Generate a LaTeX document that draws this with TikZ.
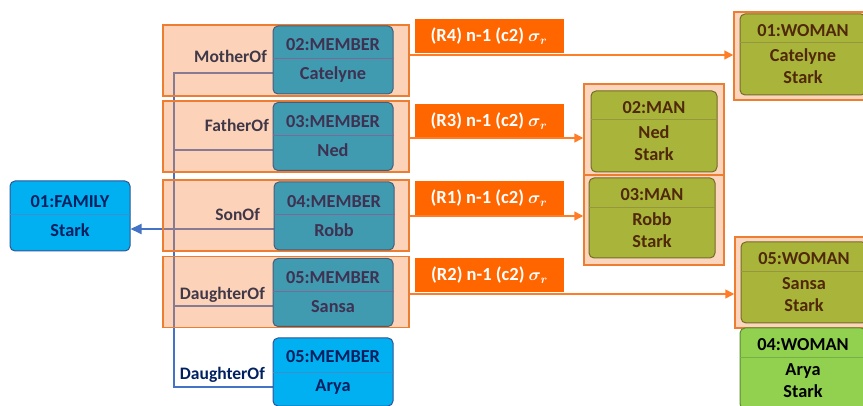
\documentclass[tikz,border=0pt]{standalone}
\usepackage{fontspec}
\setmainfont{Carlito}
\usetikzlibrary{arrows.meta}
\pgfdeclarelayer{back}
\pgfsetlayers{back,main}

\definecolor{rowfill}{RGB}{246,140,70}
\definecolor{roworange}{RGB}{237,125,49}
\definecolor{peach}{RGB}{252,213,190}
\definecolor{flame}{RGB}{255,102,0}
\definecolor{memfill}{RGB}{64,154,176}
\definecolor{memedge}{RGB}{72,92,122}
\definecolor{memline}{RGB}{124,106,150}
\definecolor{memtext}{RGB}{63,49,81}
\definecolor{skyfill}{RGB}{0,176,240}
\definecolor{skyedge}{RGB}{47,85,151}
\definecolor{skyline}{RGB}{58,143,208}
\definecolor{navytext}{RGB}{0,32,96}
\definecolor{linkblue}{RGB}{68,114,196}
\definecolor{olivefill}{RGB}{169,180,58}
\definecolor{oliveedge}{RGB}{118,108,40}
\definecolor{oliveline}{RGB}{150,150,64}
\definecolor{olivetext}{RGB}{80,40,10}
\definecolor{greenfill}{RGB}{146,208,80}
\definecolor{greenedge}{RGB}{90,140,50}
\definecolor{greenline}{RGB}{118,176,70}
\definecolor{labeltext}{RGB}{64,56,72}

\begin{document}
\begin{tikzpicture}[x=1pt, y=-1pt,
    row/.style={draw=roworange, line width=1.5pt, fill=rowfill, fill opacity=0.38, minimum width=246pt, minimum height=71pt, inner sep=0pt},
    member/.style={draw=memedge, fill=memfill, text=memtext, rounded corners=5pt, line width=1pt, minimum width=120pt, minimum height=68pt, align=center, font=\fontsize{18.3}{29}\selectfont\bfseries},
    sky/.style={member, draw=skyedge, fill=skyfill, text=navytext},
    person/.style={draw=oliveedge, fill=olivefill, text=olivetext, rounded corners=5pt, line width=1pt, minimum width=126pt, minimum height=81pt, align=center, font=\fontsize{18.3}{22}\selectfont\bfseries},
    fresh/.style={person, draw=greenedge, fill=greenfill, text=black},
    frame/.style={draw=roworange, line width=1.5pt, fill=peach, minimum width=139pt, inner sep=0pt},
    rel/.style={text=labeltext, font=\fontsize{17.5}{20}\selectfont\bfseries, anchor=base east, inner sep=0pt},
    xform/.style={fill=flame, text=white, minimum width=149pt, minimum height=34pt, inner sep=0pt, font=\fontsize{18.5}{20}\selectfont\bfseries\boldmath},
    link/.style={draw=linkblue, line width=1.8pt},
    flow/.style={draw=flame!85!white, line width=1.6pt, -{Triangle[length=9pt,width=9pt]}}]

    \path[use as bounding box, clip] (0,0) rectangle (863,406);

    % left side
    \node[row] (rowmo) at (286,60.5) {};
    \node[row] (rowfa) at (286,136.5) {};
    \node[row] (rowso) at (286,215.5) {};
    \node[row] (rowda) at (286,292) {};

    \node[sky, minimum height=70pt] (fam) at (70,216) {01:FAMILY\\Stark};
    \node[member] (mcat) at (333,60) {02:MEMBER\\Catelyne};
    \node[member] (mned) at (333,136.5) {03:MEMBER\\Ned};
    \node[member] (mrobb) at (334,216) {04:MEMBER\\Robb};
    \node[member] (msansa) at (333,292.5) {05:MEMBER\\Sansa};
    \node[sky] (marya) at (333,372) {05:MEMBER\\Arya};

    \draw[draw=skyline, line width=0.8pt] ([yshift=2pt]fam.west) -- ([yshift=2pt]fam.east);
    \draw[draw=memline, line width=0.8pt] ([yshift=1.5pt]mcat.west) -- ([yshift=1.5pt]mcat.east);
    \draw[draw=memline, line width=0.8pt] ([yshift=1pt]mned.west) -- ([yshift=1pt]mned.east);
    \draw[draw=memline, line width=0.8pt] ([yshift=1.5pt]mrobb.west) -- ([yshift=1.5pt]mrobb.east);
    \draw[draw=memline, line width=0.8pt] ([yshift=1pt]msansa.west) -- ([yshift=1pt]msansa.east);
    \draw[draw=skyline, line width=0.8pt] (marya.west) -- (marya.east);

    \node[rel] (lmo) at (267,62.5) {MotherOf};
    \node[rel] (lfa) at (269,132) {FatherOf};
    \node[rel] (lso) at (260,221) {SonOf};
    \node[rel] (lda) at (265,300) {DaughterOf};
    \node[rel, text=navytext] (ldb) at (265,379) {DaughterOf};

    % links under the rows
    \begin{pgfonlayer}{back}
        \coordinate (bustop) at (174,73);
        \coordinate (busend) at (174,387);
        \draw[link] ([yshift=-13pt]mcat.west) -| (busend) -- ([yshift=-15pt]marya.west);
        \draw[link] ([yshift=-13.5pt]mned.west) -| (bustop);
        \draw[link] ([yshift=-13.5pt]msansa.west) -| (bustop);
        \draw[link, -{Triangle[length=11pt,width=10pt]}] ([yshift=-13pt]mrobb.west) -- ([yshift=-13pt]fam.east);
    \end{pgfonlayer}

    % right side
    \node[frame, minimum height=88pt] (frcat) at (803.5,56) {};
    \node[frame, minimum width=140pt, minimum height=91pt] (frned) at (654,129.5) {};
    \node[frame, minimum width=140pt, minimum height=90pt] (frrobb) at (654,220) {};
    \node[frame, minimum height=91pt] (frsansa) at (804.5,282.5) {};

    \node[person] (wcat) at (803,54.5) {01:WOMAN\\[3pt]Catelyne\\Stark};
    \node[person] (mnedr) at (654,131.5) {02:MAN\\[3pt]Ned\\Stark};
    \node[person, minimum height=80pt] (mrobbr) at (652,218) {03:MAN\\[3pt]Robb\\Stark};
    \node[person] (wsansa) at (804,282.5) {05:WOMAN\\[3pt]Sansa\\Stark};
    \node[fresh] (warya) at (803,368.5) {04:WOMAN\\[3pt]Arya\\Stark};

    \draw[draw=oliveline, line width=0.8pt] ([yshift=12.5pt]wcat.west) -- ([yshift=12.5pt]wcat.east);
    \draw[draw=oliveline, line width=0.8pt] ([yshift=12.5pt]mnedr.west) -- ([yshift=12.5pt]mnedr.east);
    \draw[draw=oliveline, line width=0.8pt] ([yshift=11pt]mrobbr.west) -- ([yshift=11pt]mrobbr.east);
    \draw[draw=oliveline, line width=0.8pt] ([yshift=11.5pt]wsansa.west) -- ([yshift=11.5pt]wsansa.east);
    \draw[draw=greenline, line width=0.8pt] ([yshift=11.5pt]warya.west) -- ([yshift=11.5pt]warya.east);

    % transformations
    \node[xform] (xmo) at (489,36) {(R4) n-1 (c2) $\sigma_r$};
    \node[xform] (xfa) at (489,121) {(R3) n-1 (c2) $\sigma_r$};
    \node[xform] (xso) at (489,198) {(R1) n-1 (c2) $\sigma_r$};
    \node[xform] (xda) at (489.5,275) {(R2) n-1 (c2) $\sigma_r$};

    \coordinate (smo) at ([yshift=5.5pt]rowmo.east);
    \coordinate (sfa) at ([yshift=-1.5pt]rowfa.east);
    \coordinate (sso) at ([yshift=-0.5pt]rowso.east);
    \coordinate (sda) at ([yshift=-2pt]rowda.east);
    \draw[flow] (smo) -- (smo -| frcat.west);
    \draw[flow] (sfa) -- (sfa -| frned.west);
    \draw[flow] (sso) -- (sso -| frrobb.west);
    \draw[flow] (sda) -- (sda -| frsansa.west);
\end{tikzpicture}
\end{document}
